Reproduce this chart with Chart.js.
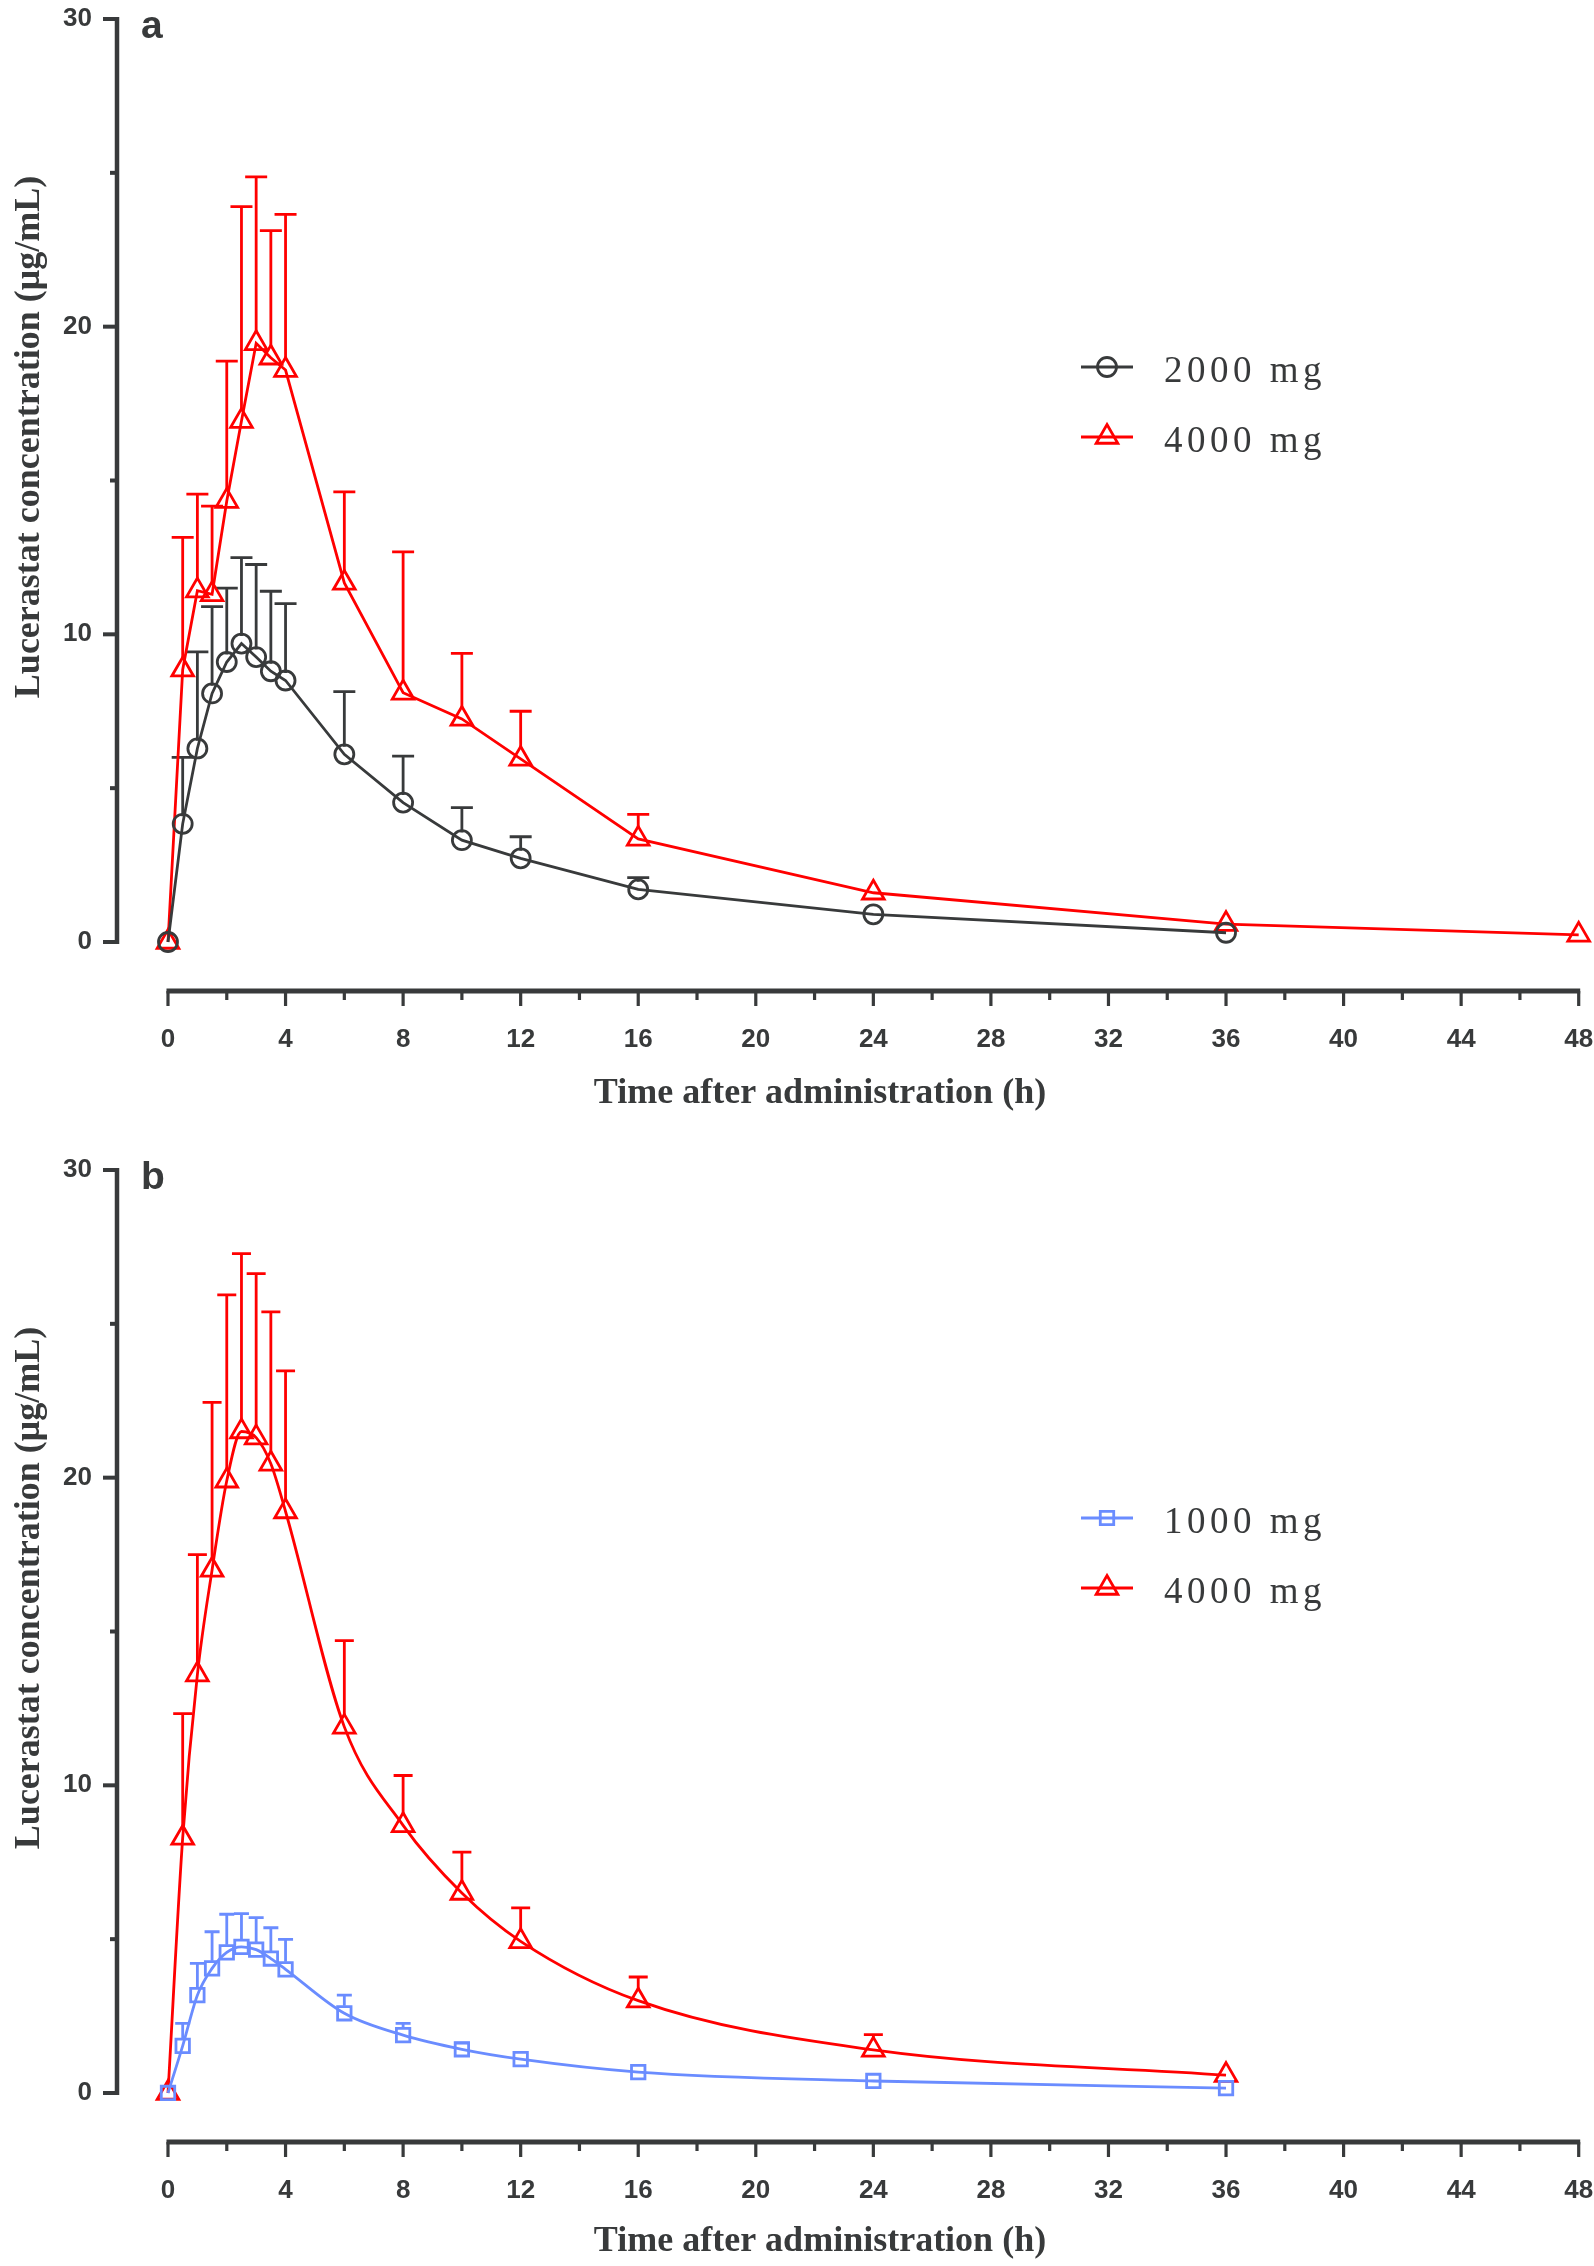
<!DOCTYPE html>
<html>
<head>
<meta charset="utf-8">
<title>Lucerastat concentration</title>
<script src="https://cdn.jsdelivr.net/npm/chart.js@4.4.1/dist/chart.umd.min.js"></script>
<style>
  html, body { margin: 0; padding: 0; background: #fff; overflow: hidden; }
  canvas { display: block; }
</style>
</head>
<body>
<canvas id="chartA" width="1594" height="1151"></canvas>
<canvas id="chartB" width="1594" height="1115"></canvas>
<script>
// sampling times (h)
const timesA2000 = [0, 0.5, 1, 1.5, 2, 2.5, 3, 3.5, 4, 6, 8, 10, 12, 16, 24, 36];
const timesA4000 = [0, 0.5, 1, 1.5, 2, 2.5, 3, 3.5, 4, 6, 8, 10, 12, 16, 24, 36, 48];
const timesB = [0, 0.5, 1, 1.5, 2, 2.5, 3, 3.5, 4, 6, 8, 10, 12, 16, 24, 36];

// panel a: mean and mean + SD (µg/mL)
const meanA2000 = [0, 3.84, 6.29, 8.08, 9.1, 9.7, 9.26, 8.8, 8.5, 6.1, 4.53, 3.31, 2.72, 1.71, 0.9, 0.3];
const upperA2000 = [null, 6.0, 9.43, 10.9, 11.5, 12.49, 12.27, 11.4, 11.0, 8.14, 6.04, 4.37, 3.42, 2.09, null, null];
const meanA4000 = [0, 8.85, 11.42, 11.3, 14.33, 16.93, 19.46, 18.99, 18.59, 11.67, 8.1, 7.25, 5.95, 3.35, 1.6, 0.58, 0.23];
const upperA4000 = [null, 13.15, 14.56, 14.17, 18.88, 23.9, 24.87, 23.12, 23.65, 14.63, 12.68, 9.38, 7.5, 4.15, null, null, null];

// panel b
const meanB1000 = [0, 1.53, 3.18, 4.05, 4.57, 4.75, 4.66, 4.37, 4.02, 2.59, 1.88, 1.42, 1.1, 0.68, 0.39, 0.16];
const upperB1000 = [null, 2.26, 4.21, 5.24, 5.81, 5.83, 5.7, 5.37, 4.99, 3.18, 2.26, 1.62, null, null, null, null];
const meanB4000 = [0, 8.29, 13.6, 17.0, 19.9, 21.5, 21.3, 20.45, 18.9, 11.9, 8.7, 6.5, 4.93, 3.0, 1.4, 0.58];
const upperB4000 = [null, 12.33, 17.5, 22.45, 25.94, 27.28, 26.63, 25.39, 23.47, 14.7, 10.32, 7.83, 6.02, 3.77, 1.9, null];

// axes
const xTicks = [0, 4, 8, 12, 16, 20, 24, 28, 32, 36, 40, 44, 48];
const xMinorTicks = [2, 6, 10, 14, 18, 22, 26, 30, 34, 38, 42, 46];
const yTicks = [0, 10, 20, 30];
const yMinorTicks = [5, 15, 25];

const xTitle = 'Time after administration (h)';
const yTitle = 'Lucerastat concentration (\u03bcg/mL)';

const ink = '#383a3b';
const red = '#ff0000';
const blue = '#6a8cff';

function points(times, values) {
    return times.map((t, i) => ({ x: t, y: values[i] }));
}

// error bars (upper SD only) + hand-made axes in the GraphPad style
const decorPlugin = {
    id: 'decor',
    beforeDatasetsDraw(chart) {
        const { ctx, scales: { x, y } } = chart;
        ctx.save();
        chart.data.datasets.forEach((ds) => {
            if (!ds.upper) return;
            ctx.strokeStyle = ds.borderColor;
            ctx.lineWidth = 2.8;
            ds.data.forEach((pt, j) => {
                const u = ds.upper[j];
                if (u === null || u === undefined) return;
                const px = x.getPixelForValue(pt.x);
                const py = y.getPixelForValue(pt.y) - ds.pointRadius * 0.8;
                const pu = y.getPixelForValue(u);
                ctx.beginPath();
                if (pu < py) {
                    ctx.moveTo(px, py);
                    ctx.lineTo(px, pu);
                }
                ctx.moveTo(px - ds.capWidth / 2, pu);
                ctx.lineTo(px + ds.capWidth / 2, pu);
                ctx.stroke();
            });
        });
        ctx.restore();
    },
    afterDraw(chart) {
        const { ctx, chartArea, scales: { x, y } } = chart;
        const opts = chart.options.plugins.decor;
        const axisX = chartArea.left;
        const axisY = chartArea.bottom;
        ctx.save();
        ctx.strokeStyle = ink;
        ctx.lineCap = 'butt';

        // y axis
        const yBottom = y.getPixelForValue(yTicks[0]);
        const yTop = y.getPixelForValue(yTicks[yTicks.length - 1]);
        ctx.lineWidth = 4.5;
        ctx.beginPath();
        ctx.moveTo(axisX, yBottom + 2);
        ctx.lineTo(axisX, yTop - 2);
        ctx.stroke();
        ctx.lineWidth = 4;
        yTicks.forEach(v => {
            const p = y.getPixelForValue(v);
            ctx.beginPath(); ctx.moveTo(axisX - 14, p); ctx.lineTo(axisX + 2, p); ctx.stroke();
        });
        yMinorTicks.forEach(v => {
            const p = y.getPixelForValue(v);
            ctx.beginPath(); ctx.moveTo(axisX - 7, p); ctx.lineTo(axisX + 2, p); ctx.stroke();
        });

        // x axis
        const xLeft = x.getPixelForValue(xTicks[0]);
        const xRight = x.getPixelForValue(xTicks[xTicks.length - 1]);
        ctx.lineWidth = 5;
        ctx.beginPath();
        ctx.moveTo(xLeft - 1.5, axisY);
        ctx.lineTo(xRight + 1.5, axisY);
        ctx.stroke();
        ctx.lineWidth = 3.2;
        xTicks.forEach(v => {
            const p = x.getPixelForValue(v);
            ctx.beginPath(); ctx.moveTo(p, axisY); ctx.lineTo(p, axisY + 15); ctx.stroke();
        });
        xMinorTicks.forEach(v => {
            const p = x.getPixelForValue(v);
            ctx.beginPath(); ctx.moveTo(p, axisY); ctx.lineTo(p, axisY + 9); ctx.stroke();
        });

        // axis titles
        ctx.fillStyle = ink;
        ctx.font = 'bold 36px "Liberation Serif", "Times New Roman", serif';
        ctx.textAlign = 'center';
        ctx.textBaseline = 'middle';
        ctx.fillText(xTitle, 820, opts.titleY);
        ctx.textBaseline = 'alphabetic';
        ctx.save();
        ctx.translate(39, 437);
        ctx.rotate(-Math.PI / 2);
        ctx.fillText(yTitle, 0, 0);
        ctx.restore();

        // panel letter
        ctx.font = 'bold 39px "Liberation Sans", Arial, sans-serif';
        ctx.textAlign = 'left';
        ctx.fillText(opts.label, 141, 37.5);

        // legend
        opts.legend.forEach((it, i) => {
            const cy = 367 + i * 70;
            ctx.strokeStyle = it.color;
            ctx.lineWidth = 3;
            ctx.beginPath(); ctx.moveTo(1081, cy); ctx.lineTo(1133, cy); ctx.stroke();
            ctx.fillStyle = 'rgba(0,0,0,0)';
            ctx.lineWidth = 2.8;
            Chart.helpers.drawPoint(ctx, { pointStyle: it.style, radius: it.radius, borderWidth: 2.8, rotation: 0 }, 1107, cy);
            ctx.fillStyle = ink;
            ctx.font = '37px "Liberation Serif", "Times New Roman", serif';
            ctx.letterSpacing = '4.5px';
            ctx.fillText(it.text, 1164, cy + 15);
            ctx.letterSpacing = '0px';
        });
        ctx.restore();
    }
};

// tick marks are drawn by the plugin; the library's tick length only sets the label offset
function hiddenGrid(len) {
    return { display: true, drawOnChartArea: false, drawTicks: true, tickLength: len, tickColor: 'rgba(0,0,0,0)', color: 'rgba(0,0,0,0)' };
}

function makeChart(id, datasets, opts) {
    const ctx = document.getElementById(id).getContext('2d');
    const canvasHeight = ctx.canvas.height;
    return new Chart(ctx, {
        type: 'scatter',
        data: { datasets: datasets },
        options: {
            responsive: false,
            animation: false,
            devicePixelRatio: 1,
            layout: { padding: { top: 19, right: 15, left: 0, bottom: 0 } },
            plugins: {
                legend: { display: false },
                tooltip: { enabled: false },
                decor: opts
            },
            scales: {
                x: {
                    type: 'linear',
                    min: -1.735,
                    max: 48,
                    grid: hiddenGrid(33),
                    border: { display: false },
                    afterBuildTicks: (scale) => { scale.ticks = xTicks.map(v => ({ value: v })); },
                    afterFit: (scale) => { scale.height = canvasHeight - 991; },
                    ticks: {
                        autoSkip: false,
                        maxRotation: 0,
                        padding: 0,
                        color: ink,
                        font: { family: '"Liberation Sans", Arial, sans-serif', size: 26, weight: 'bold' }
                    }
                },
                y: {
                    type: 'linear',
                    min: -1.593,
                    max: 30,
                    grid: hiddenGrid(25),
                    border: { display: false },
                    afterBuildTicks: (scale) => { scale.ticks = yTicks.map(v => ({ value: v })); },
                    afterFit: (scale) => { scale.width = 117; },
                    ticks: {
                        padding: 0,
                        color: ink,
                        font: { family: '"Liberation Sans", Arial, sans-serif', size: 26, weight: 'bold' }
                    }
                }
            }
        },
        plugins: [decorPlugin]
    });
}

function series(label, times, mean, upper, color, style, radius, capWidth, smooth) {
    return {
        label: label,
        data: points(times, mean),
        upper: upper,
        capWidth: capWidth,
        showLine: true,
        borderColor: color,
        borderWidth: 2.8,
        backgroundColor: 'rgba(0,0,0,0)',
        pointStyle: style,
        pointRadius: radius,
        pointBorderWidth: 2.8,
        pointBorderColor: color,
        pointBackgroundColor: 'rgba(0,0,0,0)',
        tension: 0,
        cubicInterpolationMode: smooth ? 'monotone' : 'default',
        clip: false
    };
}

makeChart('chartA', [
    series('2000 mg', timesA2000, meanA2000, upperA2000, ink, 'circle', 9.5, 22, false),
    series('4000 mg', timesA4000, meanA4000, upperA4000, red, 'triangle', 12.5, 22, false)
], {
    label: 'a',
    titleY: 1094,
    legend: [
        { text: '2000 mg', color: ink, style: 'circle', radius: 9.5 },
        { text: '4000 mg', color: red, style: 'triangle', radius: 12.5 }
    ]
});

makeChart('chartB', [
    series('1000 mg', timesB, meanB1000, upperB1000, blue, 'rect', 9.5, 15, true),
    series('4000 mg', timesB, meanB4000, upperB4000, red, 'triangle', 12.5, 19, true)
], {
    label: 'b',
    titleY: 1091,
    legend: [
        { text: '1000 mg', color: blue, style: 'rect', radius: 9.5 },
        { text: '4000 mg', color: red, style: 'triangle', radius: 12.5 }
    ]
});
</script>
</body>
</html>
